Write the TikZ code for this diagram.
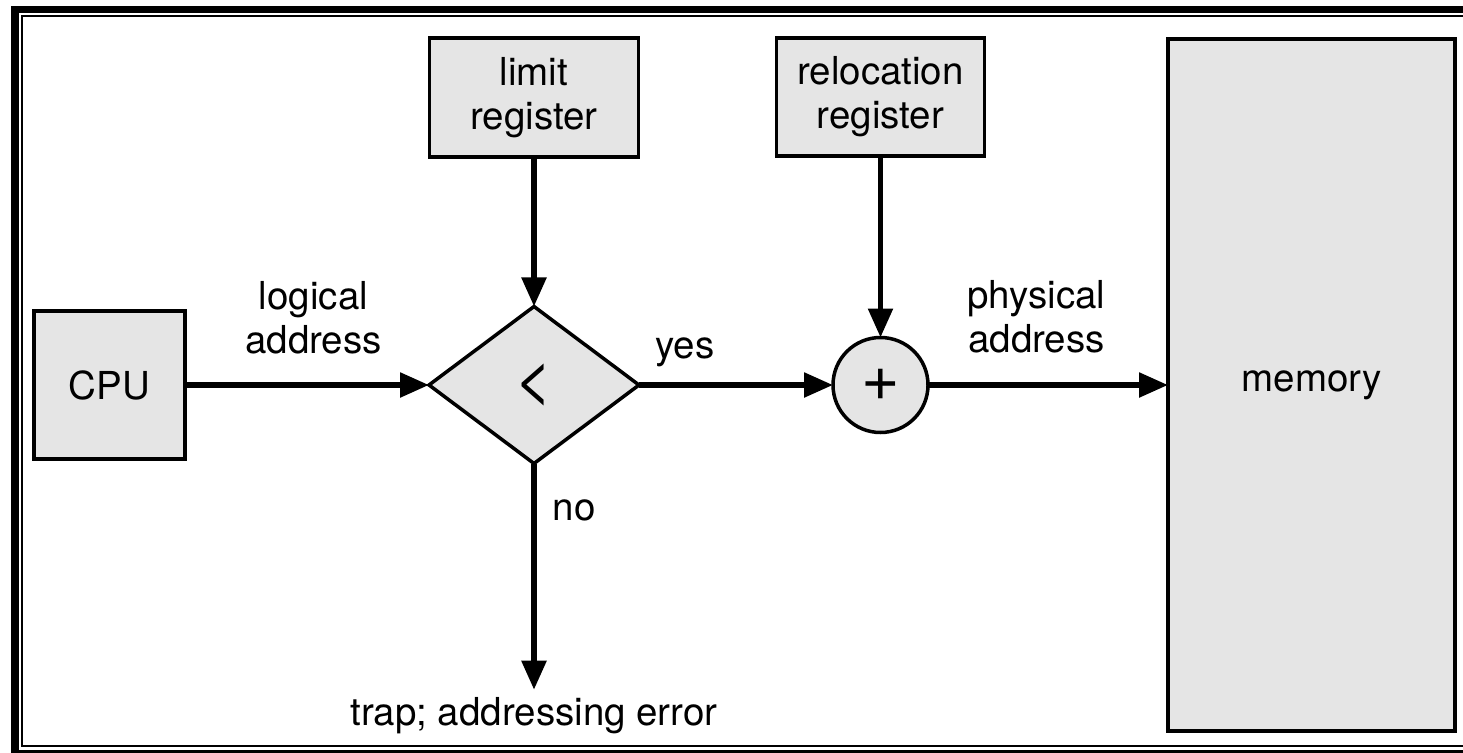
\documentclass[tikz,border=0pt]{standalone}
\usepackage{fontspec}
\setmainfont{TeX Gyre Heros}
\usetikzlibrary{arrows.meta,shapes.geometric}
\definecolor{boxgray}{gray}{0.9}

\begin{document}
\begin{tikzpicture}[x=1pt, y=-1pt,
    font=\fontsize{38.5}{44}\selectfont,
    block/.style={draw, fill=boxgray, line width=3.5pt, outer sep=0pt, inner sep=0pt, align=center},
    symb/.style={font=\fontsize{66}{66}\selectfont},
    lbl/.style={inner sep=0pt, align=center},
    arr/.style={line width=5.5pt, -{Triangle[length=29pt,width=24pt]}}]
        \useasboundingbox (0,0) rectangle (1463,752);

        % Frame
        \draw[line width=7.5pt] (15,9.5) rectangle (1480,753.5);
        \draw[line width=2pt] (22,16) rectangle (1470,746);

        % Boxes
        \node[block, minimum width=151pt, minimum height=148pt] (cpu) at (109.5,385) {CPU};
        \node[block, minimum width=209pt, minimum height=119pt] (limit) at (534,97.5) {limit\\register};
        \node[block, minimum width=208pt, minimum height=118pt] (reloc) at (880.5,97) {relocation\\register};
        \node[block, minimum width=287pt, minimum height=692pt] (mem) at (1311.5,385) {memory};

        % Compare and add
        \node[block, symb, diamond, aspect=1.34, minimum width=210pt, minimum height=157pt] (cmp) at (534,385) {<};
        \node[block, symb, circle, minimum size=95pt] (add) at (880.5,385) {+};

        % Trap text
        \node[lbl, anchor=base, inner ysep=7pt] (trap) at (534,725) {trap; addressing error};

        % Arrows
        \draw[arr] (cpu) -- (cmp);
        \draw[arr] (limit) -- (cmp);
        \draw[arr] (cmp) -- (add);
        \draw[arr] (reloc) -- (add);
        \draw[arr] (add) -- (mem);
        \draw[arr] (cmp) -- (trap);

        % Labels
        \node[lbl, anchor=south] (logaddr) at (313.5,354) {logical\\address};
        \node[lbl, anchor=south] (physaddr) at (1036.5,353) {physical\\address};
        \node[lbl, anchor=base] (yes) at (685,358) {yes};
        \node[lbl, anchor=base] (no) at (574,520) {no};
\end{tikzpicture}
\end{document}
